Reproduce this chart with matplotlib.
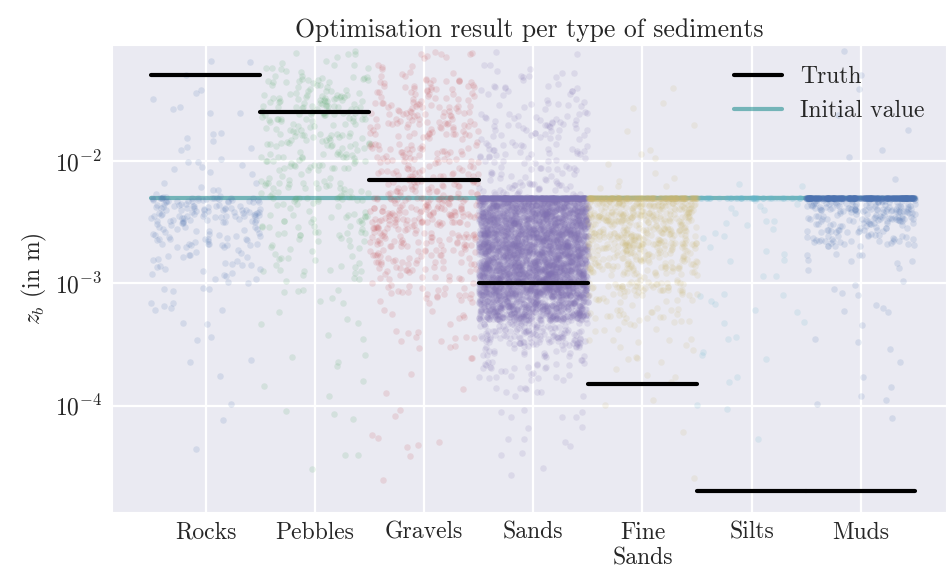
import numpy as np
import matplotlib.pyplot as plt
import seaborn as sns

sns.set_style('darkgrid')
plt.rcParams['font.family'] = 'serif'
plt.rcParams['font.serif'] = ['cmr10']
plt.rcParams['mathtext.fontset'] = 'cm'
plt.rcParams['axes.formatter.use_mathtext'] = True
plt.rcParams['grid.linewidth'] = 1.6

sediments = ['Rocks', 'Pebbles', 'Gravels', 'Sands', 'Fine\nSands', 'Silts', 'Muds']
truth = [5e-2, 2.5e-2, 7e-3, 1e-3, 1.5e-4, 2e-5, 2e-5]
initial = 5e-3

# optimised z_b per sediment, counted in 0.2-decade bins (log10 from -4.701 to -1.101)
log_edges = np.linspace(-4.701, -1.101, 19)
counts_rocks = [0, 1, 1, 1, 1, 2, 4, 6, 12, 20, 45, 90, 10, 8, 6, 4, 4, 2]
counts_pebbles = [1, 2, 1, 3, 2, 4, 4, 5, 10, 18, 25, 30, 35, 40, 45, 60, 45, 15]
counts_gravels = [1, 3, 3, 2, 3, 5, 10, 14, 30, 50, 70, 90, 55, 50, 45, 55, 40, 15]
counts_sands = [2, 3, 5, 8, 20, 45, 130, 520, 800, 800, 800, 800, 45, 40, 35, 30, 20, 8]
counts_fine = [1, 0, 1, 2, 3, 8, 15, 30, 70, 110, 150, 200, 8, 4, 2, 2, 1, 0]
counts_silts = [0, 0, 1, 2, 2, 3, 4, 5, 4, 5, 6, 8, 2, 0, 0, 0, 0, 0]
counts_muds = [0, 0, 1, 3, 2, 2, 3, 4, 5, 10, 70, 150, 2, 2, 1, 1, 2, 1]
counts = [counts_rocks, counts_pebbles, counts_gravels, counts_sands,
          counts_fine, counts_silts, counts_muds]
# runs that stayed at the initial value
stuck = [10, 5, 10, 300, 200, 60, 400]

# classic seaborn "deep" colours
palette = ['#4C72B0', '#55A868', '#C44E52', '#8172B2', '#CCB974', '#64B5CD']
colors = [palette[k % len(palette)] for k in range(len(sediments))]


def spread(n, start):
    # quadratic Weyl sequence: fractions in [0, 1) to place points inside a cell
    i = np.arange(start + 1, start + n + 1, dtype=float) ** 2
    return (i * np.sqrt(2)) % 1, (i * np.sqrt(3)) % 1


fig, ax = plt.subplots(figsize=(9.47, 5.75), dpi=100)
fig.subplots_adjust(left=0.118, right=0.999, top=0.922, bottom=0.110)

ax.plot([-0.5, len(sediments) - 0.5], [initial, initial], color='teal', alpha=0.5,
        lw=3, solid_capstyle='round', label='Initial value', zorder=2)

start = 0
for k, c in enumerate(counts):
    xs, ys = [], []
    for j, n in enumerate(c):
        u, v = spread(n, start)
        start += n
        xs.append(k - 0.5 + u)
        ys.append(10 ** (log_edges[j] + (log_edges[j + 1] - log_edges[j]) * v))
    u, v = spread(stuck[k], start)
    start += stuck[k]
    xs.append(k - 0.5 + u)
    ys.append(np.full(stuck[k], initial))
    ax.scatter(np.concatenate(xs), np.concatenate(ys), s=22, color=colors[k],
               alpha=0.15, linewidths=0, zorder=3)

for k, t in enumerate(truth):
    ax.plot([k - 0.5, k + 0.5], [t, t], color='black', lw=3, solid_capstyle='round',
            label='Truth' if k == 0 else None, zorder=4)

ax.set_yscale('log')
ax.set_ylim(1.36e-5, 8.85e-2)
ax.set_xlim(-0.86, 6.78)
ax.set_xticks(range(len(sediments)))
ax.set_xticklabels(sediments, fontsize=17)
ax.tick_params(axis='y', labelsize=17)
ax.set_ylabel('$z_b$ (in m)', fontsize=17)
ax.set_title('Optimisation result per type of sediments', fontsize=18.5)

handles, labels = ax.get_legend_handles_labels()
ax.legend(handles[::-1], labels[::-1], loc='upper right', fontsize=17, frameon=False)

fig.savefig('out.png')
